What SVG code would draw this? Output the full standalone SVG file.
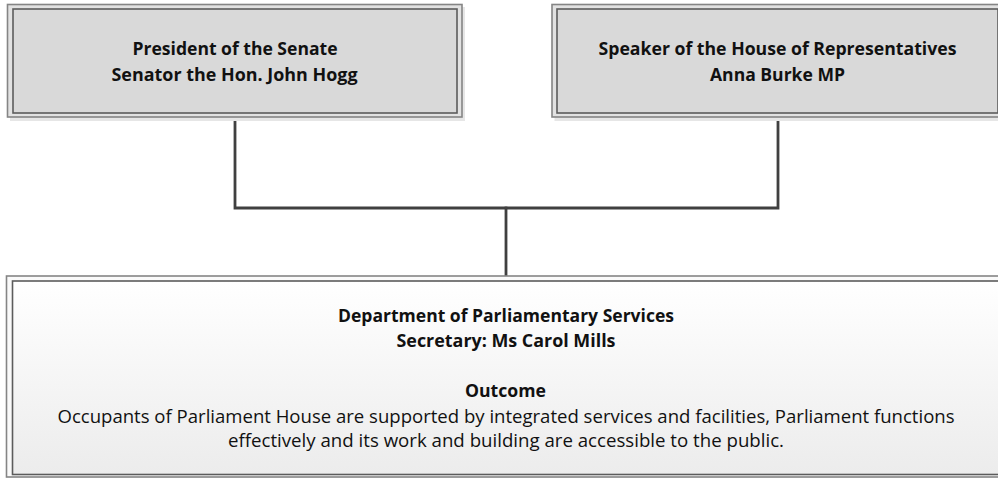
<svg xmlns="http://www.w3.org/2000/svg" width="998" height="479" viewBox="0 0 998 479">
  <style>
    .shadow { fill: #e6e6e6; }
    .outer { stroke: #858585; stroke-width: 1.6; }
    .inner { stroke: #5c5c5c; stroke-width: 1.6; }
    .topfill { fill: #d9d9d9; }
    .topring { fill: #e2e2e2; }
    .lbl { font-family: "Open Sans", "Liberation Sans", sans-serif; fill: #111111; text-anchor: middle; }
    .b { font-weight: bold; font-size: 17px; }
    .r { font-weight: normal; font-size: 18.5px; }
    .conn { stroke: #404040; stroke-width: 2.8; fill: none; stroke-linecap: square; }
  </style>
  <defs>
    <linearGradient id="bottomGrad" x1="0" y1="0" x2="0" y2="1">
      <stop offset="0" stop-color="#ffffff"/>
      <stop offset="1" stop-color="#ececec"/>
    </linearGradient>
  </defs>
  <rect width="998" height="479" fill="#ffffff"/>

  <g id="connectors">
    <polyline class="conn" points="235,117 235,208 778,208 778,117"/>
    <line class="conn" x1="506" y1="208" x2="506" y2="276"/>
  </g>

  <g id="president">
    <rect class="shadow" x="10" y="7" width="455" height="114"/>
    <rect class="outer topring" x="7.5" y="4.5" width="454.5" height="112.5"/>
    <rect class="inner topfill" x="13" y="9" width="444" height="104"/>
    <text class="lbl b" x="235" y="55" textLength="205" lengthAdjust="spacingAndGlyphs">President of the Senate</text>
    <text class="lbl b" x="234.5" y="81" textLength="246" lengthAdjust="spacingAndGlyphs">Senator the Hon. John Hogg</text>
  </g>

  <g id="speaker">
    <rect class="shadow" x="554.5" y="7" width="455" height="114"/>
    <rect class="outer topring" x="552" y="4.5" width="452" height="112.5"/>
    <rect class="inner topfill" x="557" y="9" width="441" height="104"/>
    <text class="lbl b" x="777.5" y="54.5" textLength="358" lengthAdjust="spacingAndGlyphs">Speaker of the House of Representatives</text>
    <text class="lbl b" x="777.5" y="80.5" textLength="135" lengthAdjust="spacingAndGlyphs">Anna Burke MP</text>
  </g>

  <g id="department">
    <rect class="outer" x="6.5" y="276" width="999" height="201" fill="#fafafa"/>
    <rect class="inner" x="12.5" y="281" width="987" height="193.5" fill="url(#bottomGrad)"/>
    <text class="lbl b" x="506" y="321.5" textLength="336" lengthAdjust="spacingAndGlyphs">Department of Parliamentary Services</text>
    <text class="lbl b" x="506" y="346.5" textLength="219" lengthAdjust="spacingAndGlyphs">Secretary: Ms Carol Mills</text>
    <text class="lbl b" x="505.5" y="396.5" textLength="81" lengthAdjust="spacingAndGlyphs">Outcome</text>
    <text class="lbl r" x="506" y="423" textLength="897" lengthAdjust="spacingAndGlyphs">Occupants of Parliament House are supported by integrated services and facilities, Parliament functions</text>
    <text class="lbl r" x="506" y="446.5" textLength="556" lengthAdjust="spacingAndGlyphs">effectively and its work and building are accessible to the public.</text>
  </g>
</svg>
